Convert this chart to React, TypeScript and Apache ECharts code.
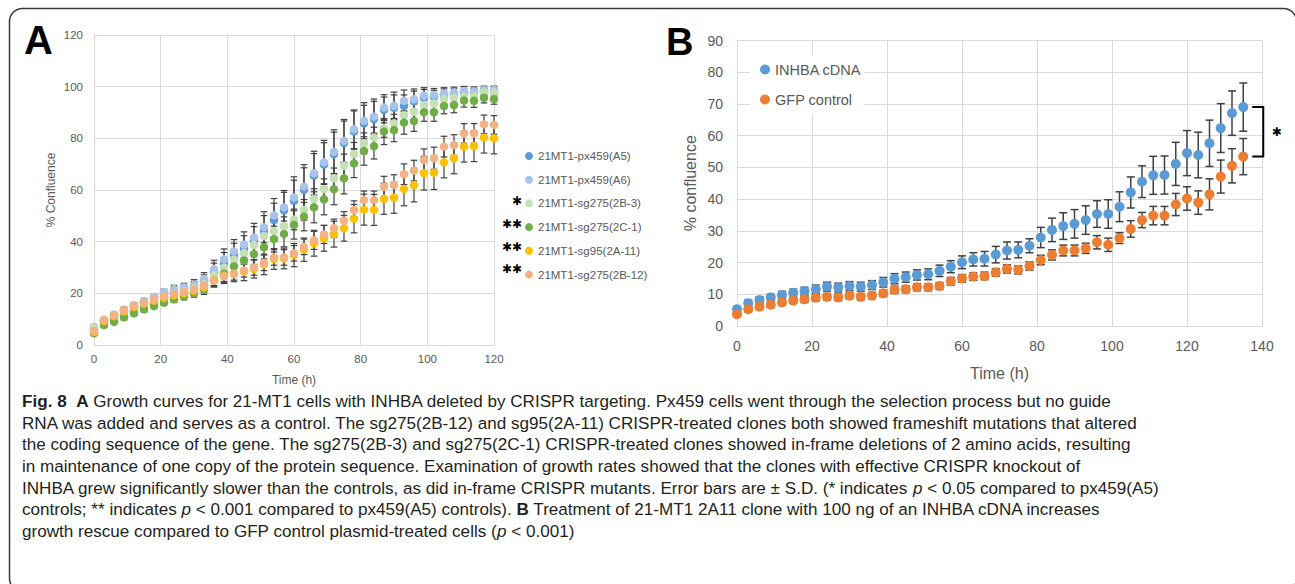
import React, { useEffect, useRef } from "react";
import * as echarts from "echarts";

// ---------- Panel A data (time in h, % confluence) ----------
const timeA = [0, 3, 6, 9, 12, 15, 18, 21, 24, 27, 30, 33, 36, 39, 42, 45, 48, 51, 54, 57, 60, 63, 66, 69, 72, 75, 78, 81, 84, 87, 90, 93, 96, 99, 102, 105, 108, 111, 114, 117, 120];
const namesA = ["21MT1-px459(A5)", "21MT1-px459(A6)", "21MT1-sg275(2B-3)", "21MT1-sg275(2C-1)", "21MT1-sg95(2A-11)", "21MT1-sg275(2B-12)"];
const colorsA = ["#5B9BD5", "#A9C4EA", "#C5E0B4", "#70AD47", "#FFC000", "#F4B183"];
const pxA5 = [6.3, 9.3, 11.4, 13.3, 15.0, 16.6, 18.2, 19.9, 21.0, 21.8, 22.6, 24.6, 28.2, 31.8, 34.9, 37.3, 40.3, 44.1, 48.4, 52.1, 55.8, 60.1, 65.6, 69.8, 73.9, 78.2, 82.6, 85.8, 87.5, 91.0, 91.8, 92.6, 94.3, 95.7, 96.1, 96.9, 97.2, 97.6, 97.5, 98.1, 98.3];
const pxA6 = [7.0, 9.8, 11.8, 13.7, 15.4, 17.0, 18.6, 20.4, 21.6, 22.4, 23.3, 25.5, 29.3, 33.2, 36.3, 38.8, 41.6, 45.6, 50.2, 53.3, 57.1, 61.3, 66.5, 70.7, 74.8, 79.0, 83.5, 86.8, 88.4, 91.9, 92.6, 94.5, 95.1, 96.5, 96.8, 97.4, 97.8, 98.3, 98.1, 98.7, 98.7];
const sg2B3 = [6.5, 9.5, 11.3, 13.0, 14.6, 16.0, 17.4, 18.6, 19.8, 20.8, 22.0, 23.5, 27.0, 29.9, 33.0, 35.5, 38.7, 42.2, 44.1, 46.1, 48.6, 52.3, 56.5, 60.3, 64.5, 69.4, 73.9, 78.1, 80.3, 83.9, 85.8, 89.0, 90.3, 92.9, 93.5, 95.2, 95.7, 96.1, 96.4, 97.8, 97.8];
const sg2C1 = [4.5, 7.7, 9.0, 10.7, 12.3, 13.8, 15.1, 16.4, 17.7, 18.7, 20.0, 21.6, 25.0, 27.6, 30.4, 32.7, 35.2, 37.8, 41.0, 43.0, 46.5, 49.7, 53.3, 56.4, 60.3, 64.5, 70.3, 75.1, 77.0, 82.6, 83.2, 86.1, 86.7, 90.1, 90.1, 92.5, 92.9, 94.6, 94.5, 95.7, 95.2];
const sg2A11 = [5.0, 9.3, 11.2, 13.0, 14.7, 16.0, 17.2, 18.3, 19.2, 20.0, 21.0, 22.3, 25.0, 26.8, 27.5, 28.4, 29.4, 31.2, 33.3, 33.5, 34.8, 36.9, 39.4, 41.3, 42.9, 45.2, 48.9, 52.4, 52.3, 56.6, 57.0, 60.4, 61.9, 66.5, 66.7, 70.7, 72.3, 76.8, 77.0, 80.3, 80.0];
const sg2B12 = [5.5, 9.7, 11.6, 13.5, 15.1, 16.4, 17.7, 18.9, 19.8, 20.6, 21.5, 23.0, 25.0, 26.6, 27.6, 28.8, 30.0, 31.8, 33.9, 33.9, 35.5, 38.0, 40.5, 42.8, 45.2, 48.1, 52.3, 56.1, 56.1, 61.3, 61.9, 66.1, 67.5, 71.6, 72.3, 76.8, 77.4, 81.9, 81.9, 85.4, 85.2];
const errA5 = [0.8, 0.8, 0.8, 1, 1, 1, 1, 1.2, 1.5, 1.5, 2, 2.5, 3.5, 4, 4.5, 5, 5.5, 6, 6.5, 7, 8, 8.5, 8.5, 8.5, 8.5, 8.5, 8, 7, 6.8, 5, 5, 4.2, 4, 3.2, 2.5, 2.2, 2, 1.8, 1.8, 1.5, 1.5];
const errA6 = [0.8, 0.8, 0.8, 1, 1, 1, 1, 1.2, 1.5, 1.5, 2, 2.5, 3.5, 4, 4.5, 5, 5.5, 6, 6.5, 6.5, 8, 8.5, 8.5, 8.5, 8.5, 8.3, 7.5, 7, 6.8, 5, 5.3, 4.2, 4, 3.1, 2.5, 2.2, 2, 1.8, 1.8, 1.5, 1.5];
const err2B3 = [0.8, 0.8, 0.8, 0.8, 1, 1, 1, 1, 1, 1.2, 1.5, 2, 2.5, 2.5, 3, 3, 3, 3.5, 3.5, 3.5, 4, 4, 4, 4, 4, 4.5, 4.5, 4, 4, 3.5, 3.5, 3, 3, 2.5, 2.5, 2, 2, 2, 2, 1.5, 1.5];
const err2C1 = [0.8, 0.8, 0.8, 1, 1, 1, 1, 1, 1.2, 1.2, 1.5, 2, 2.5, 3, 3, 3.5, 4, 4.5, 5, 5, 5.5, 5.5, 6, 6, 6, 6, 5.5, 5.5, 5, 5, 4.5, 4.5, 4, 3.5, 3.5, 3, 3, 2.5, 2.5, 2, 2];
const err2A11 = [0.8, 0.8, 0.8, 1, 1, 1, 1, 1, 1.2, 1.2, 1.5, 2, 2.5, 3, 3, 3.5, 3.5, 4, 4, 4, 4.5, 4.5, 5, 5, 5, 5, 5.5, 6, 6, 6, 6, 6.5, 6.5, 6.5, 6.5, 6, 6, 6, 6, 6, 6];
const err2B12 = [0.8, 0.8, 0.8, 1, 1, 1, 1, 1, 1.2, 1.2, 1.5, 2, 2, 2.5, 2.5, 2.5, 3, 3, 3, 3, 3, 3, 3.5, 3.5, 3.5, 3.5, 3.5, 3.5, 3.5, 4, 4, 4, 4, 4.3, 4.3, 4, 4, 3.8, 3.8, 3.6, 3.6];
const significanceA = ["", "", "✱", "✱✱", "✱✱", "✱✱"];

// ---------- Panel B data ----------
const timeB = [0, 3, 6, 9, 12, 15, 18, 21, 24, 27, 30, 33, 36, 39, 42, 45, 48, 51, 54, 57, 60, 63, 66, 69, 72, 75, 78, 81, 84, 87, 90, 93, 96, 99, 102, 105, 108, 111, 114, 117, 120, 123, 126, 129, 132, 135];
const namesB = ["INHBA cDNA", "GFP control"];
const colorsB = ["#5B9BD5", "#ED7D31"];
const inhba = [5.3, 7.2, 8.2, 9.0, 9.8, 10.5, 11.0, 11.6, 12.4, 12.1, 12.6, 12.4, 12.9, 13.8, 14.9, 15.4, 16.1, 16.3, 17.4, 18.7, 20.1, 21.0, 21.2, 22.5, 23.8, 24.0, 25.3, 27.9, 30.3, 31.5, 32.2, 33.4, 35.3, 35.3, 37.6, 42.1, 45.5, 47.5, 47.6, 51.1, 54.5, 53.9, 57.6, 62.4, 67.1, 69.0];
const gfp = [3.7, 5.3, 6.1, 6.7, 7.4, 8.0, 8.4, 8.9, 9.2, 9.0, 9.6, 9.2, 9.6, 10.3, 11.4, 11.6, 12.2, 12.2, 12.6, 14.1, 15.0, 15.6, 15.8, 16.9, 18.0, 17.7, 18.9, 20.8, 22.4, 23.8, 23.8, 24.5, 26.4, 25.6, 27.7, 30.6, 33.4, 34.8, 34.8, 38.3, 40.2, 38.9, 41.5, 47.1, 50.5, 53.4];
const errInhba = [0.8, 0.9, 1.0, 1.0, 1.1, 1.1, 1.2, 1.3, 1.4, 1.4, 1.4, 1.4, 1.4, 1.5, 1.6, 1.6, 1.6, 1.7, 1.8, 1.9, 2.0, 2.1, 2.3, 2.6, 2.7, 2.5, 2.2, 3.2, 3.7, 4.2, 4.5, 4.5, 4.2, 4.5, 4.7, 4.9, 5.0, 6.0, 6.0, 6.8, 7.1, 7.2, 7.3, 7.7, 7.0, 7.6];
const errGfp = [0.7, 0.8, 0.8, 0.9, 0.9, 0.9, 1.0, 1.0, 1.0, 1.0, 1.0, 1.0, 1.0, 1.0, 1.1, 1.1, 1.1, 1.1, 1.1, 1.2, 1.2, 1.2, 1.2, 1.2, 1.3, 1.3, 1.3, 1.5, 1.6, 1.7, 1.7, 1.6, 2.1, 2.1, 1.7, 2.6, 2.4, 2.9, 2.9, 3.5, 3.7, 3.7, 4.9, 5.2, 5.4, 5.7];

// ---------- Caption ----------
const captionLines = [
  "{b|Fig. 8}  {b|A} Growth curves for 21-MT1 cells with INHBA deleted by CRISPR targeting. Px459 cells went through the selection process but no guide",
  "RNA was added and serves as a control. The sg275(2B-12) and sg95(2A-11) CRISPR-treated clones both showed frameshift mutations that altered",
  "the coding sequence of the gene. The sg275(2B-3) and sg275(2C-1) CRISPR-treated clones showed in-frame deletions of 2 amino acids, resulting",
  "in maintenance of one copy of the protein sequence. Examination of growth rates showed that the clones with effective CRISPR knockout of",
  "INHBA grew significantly slower than the controls, as did in-frame CRISPR mutants. Error bars are ± S.D. (* indicates {i|p} < 0.05 compared to px459(A5)",
  "controls; ** indicates {i|p} < 0.001 compared to px459(A5) controls). {b|B} Treatment of 21-MT1 2A11 clone with 100 ng of an INHBA cDNA increases",
  "growth rescue compared to GFP control plasmid-treated cells ({i|p} < 0.001)",
];

const FONT = "'Liberation Sans', Arial, sans-serif";
const GRID = "#D9D9D9";
const TXT = "#595959";
const BAR = "#404040";
const CAP_SIZE = 17.1;

function errorSeries(xs: number[], ys: number[], es: number[], idx: number, cap: number, lw: number) {
  return {
    type: "custom",
    xAxisIndex: idx,
    yAxisIndex: idx,
    silent: true,
    z: 1,
    data: xs.map((x, i) => [x, ys[i] - es[i], ys[i] + es[i]]),
    encode: { x: 0, y: [1, 2] },
    renderItem: (_p: any, api: any) => {
      const x = api.value(0);
      const top = api.coord([x, api.value(2)]);
      const bot = api.coord([x, api.value(1)]);
      const st = { stroke: BAR, lineWidth: lw };
      return {
        type: "group",
        children: [
          { type: "line", shape: { x1: top[0], y1: top[1], x2: bot[0], y2: bot[1] }, style: st },
          { type: "line", shape: { x1: top[0] - cap, y1: top[1], x2: top[0] + cap, y2: top[1] }, style: st },
          { type: "line", shape: { x1: bot[0] - cap, y1: bot[1], x2: bot[0] + cap, y2: bot[1] }, style: st },
        ],
      };
    },
  };
}

function axisBase(fontSize: number) {
  return {
    type: "value",
    nameLocation: "middle",
    axisLine: { show: true, lineStyle: { color: GRID, width: 1 } },
    axisTick: { show: false },
    splitLine: { show: true, lineStyle: { color: GRID, width: 1 } },
    axisLabel: { color: TXT, fontSize, fontFamily: FONT },
  };
}

export default function App() {
  const ref = useRef<HTMLDivElement>(null);
  useEffect(() => {
    if (!ref.current) return;
    const chart = echarts.init(ref.current, undefined, { renderer: "svg" });
    const seriesA = [pxA5, pxA6, sg2B3, sg2C1, sg2A11, sg2B12];
    const errsA = [errA5, errA6, err2B3, err2C1, err2A11, err2B12];
    const series: any[] = [];
    seriesA.forEach((ys, k) => {
      series.push(errorSeries(timeA, ys, errsA[k], 0, 3.3, 1.2));
    });
    seriesA.forEach((ys, k) => {
      series.push({
        type: "scatter",
        name: namesA[k],
        xAxisIndex: 0,
        yAxisIndex: 0,
        z: 2,
        symbol: "circle",
        symbolSize: 8.5,
        itemStyle: { color: colorsA[k], opacity: 1 },
        data: timeA.map((t, i) => [t, ys[i]]),
      });
    });
    const seriesB = [inhba, gfp];
    const errsB = [errInhba, errGfp];
    seriesB.forEach((ys, k) => {
      series.push(errorSeries(timeB, ys, errsB[k], 1, 4, 1.5));
    });
    seriesB.forEach((ys, k) => {
      series.push({
        type: "scatter",
        name: namesB[k],
        xAxisIndex: 1,
        yAxisIndex: 1,
        z: 2,
        symbol: "circle",
        symbolSize: 10,
        itemStyle: { color: colorsB[k], opacity: 1 },
        data: timeB.map((t, i) => [t, ys[i]]),
      });
    });
    // significance bracket between last points of panel B
    const last = timeB.length - 1;
    series.push({
      type: "custom",
      xAxisIndex: 1,
      yAxisIndex: 1,
      silent: true,
      z: 3,
      clip: false,
      data: [[timeB[last], inhba[last], gfp[last]]],
      renderItem: (_p: any, api: any) => {
        const a = api.coord([api.value(0), api.value(1)]);
        const b = api.coord([api.value(0), api.value(2)]);
        const x0 = a[0] + 9;
        const x1 = a[0] + 20;
        return {
          type: "group",
          children: [
            {
              type: "polyline",
              shape: { points: [[x0, a[1]], [x1, a[1]], [x1, b[1]], [x0, b[1]]] },
              style: { stroke: "#000", lineWidth: 2, fill: "none" },
            },
            {
              type: "text",
              style: {
                text: "✱",
                x: a[0] + 33.5,
                y: (a[1] + b[1]) / 2,
                fill: "#000",
                fontSize: 12,
                fontFamily: "'DejaVu Sans', sans-serif",
                align: "center",
                verticalAlign: "middle",
              },
            },
          ],
        };
      },
    });

    const graphic: any[] = [
      {
        type: "rect",
        z: -10,
        shape: { x: 9.5, y: 8.5, width: 1287, height: 583, r: 13 },
        style: { fill: "none", stroke: "#3a3a3a", lineWidth: 1.5 },
      },
      {
        type: "text",
        x: 24,
        y: 40,
        style: { text: "A", fontSize: 40, fontWeight: "bold", fontFamily: FONT, fill: "#000", verticalAlign: "middle" },
      },
      {
        type: "text",
        x: 666,
        y: 41.5,
        style: { text: "B", fontSize: 38, fontWeight: "bold", fontFamily: FONT, fill: "#000", verticalAlign: "middle" },
      },
    ];
    const legendTopA = 155.7;
    const legendStepA = 22.7;
    significanceA.forEach((s, k) => {
      if (!s) return;
      graphic.push({
        type: "text",
        x: 522,
        y: legendTopA + k * legendStepA,
        style: {
          text: s,
          fontSize: 12,
          fontFamily: "'DejaVu Sans', sans-serif",
          fill: "#000",
          align: "right",
          verticalAlign: "middle",
          letterSpacing: 2,
        },
      });
    });
    captionLines.forEach((line, k) => {
      graphic.push({
        type: "text",
        x: 22,
        y: 401.7 + k * 21.6,
        style: {
          text: line,
          fontSize: CAP_SIZE,
          fontFamily: FONT,
          fill: "#231f20",
          verticalAlign: "middle",
          rich: {
            b: { fontWeight: "bold", fontSize: CAP_SIZE, fontFamily: FONT, fill: "#231f20" },
            i: { fontStyle: "italic", fontSize: CAP_SIZE, fontFamily: FONT, fill: "#231f20" },
          },
        },
      });
    });

    chart.setOption({
      animation: false,
      backgroundColor: "#fff",
      textStyle: { fontFamily: FONT },
      grid: [
        { left: 94, top: 35, width: 400, height: 310 },
        { left: 737, top: 40.5, width: 525, height: 285.5 },
      ],
      xAxis: [
        {
          ...axisBase(11.5),
          gridIndex: 0,
          min: 0,
          max: 120,
          interval: 20,
          name: "Time (h)",
          nameGap: 35,
          nameTextStyle: { color: TXT, fontSize: 12, fontFamily: FONT, verticalAlign: "middle" },
          axisLabel: { color: TXT, fontSize: 11.5, fontFamily: FONT, margin: 8 },
        },
        {
          ...axisBase(14),
          gridIndex: 1,
          min: 0,
          max: 140,
          interval: 20,
          name: "Time (h)",
          nameGap: 47,
          nameTextStyle: { color: TXT, fontSize: 16, fontFamily: FONT, verticalAlign: "middle" },
          axisLabel: { color: TXT, fontSize: 14, fontFamily: FONT, margin: 13 },
        },
      ],
      yAxis: [
        {
          ...axisBase(11.5),
          gridIndex: 0,
          min: 0,
          max: 120,
          interval: 20,
          name: "% Confluence",
          nameGap: 43,
          nameRotate: 90,
          nameTextStyle: { color: TXT, fontSize: 12, fontFamily: FONT, verticalAlign: "middle" },
          axisLabel: { color: TXT, fontSize: 11.5, fontFamily: FONT, margin: 11 },
        },
        {
          ...axisBase(14),
          gridIndex: 1,
          min: 0,
          max: 90,
          interval: 10,
          name: "% confluence",
          nameGap: 47,
          nameRotate: 90,
          nameTextStyle: { color: TXT, fontSize: 16, fontFamily: FONT, verticalAlign: "middle" },
          axisLabel: { color: TXT, fontSize: 14, fontFamily: FONT, margin: 14 },
        },
      ],
      legend: [
        {
          data: namesA,
          orient: "vertical",
          left: 520,
          top: 145,
          padding: 5,
          icon: "circle",
          itemWidth: 8,
          itemHeight: 8,
          itemGap: 11.7,
          selectedMode: false,
          textStyle: { color: TXT, fontSize: 11.5, fontFamily: FONT },
        },
        {
          data: namesB,
          orient: "vertical",
          left: 750,
          top: 55,
          padding: [7, 3, 7, 10],
          icon: "circle",
          itemWidth: 10,
          itemHeight: 10,
          itemGap: 15,
          selectedMode: false,
          backgroundColor: "#fff",
          textStyle: { color: TXT, fontSize: 14.5, fontFamily: FONT },
        },
      ],
      series,
      graphic,
    });
    return () => chart.dispose();
  }, []);
  return <div ref={ref} style={{ position: "absolute", left: 0, top: 0, width: 1295, height: 584 }} />;
}
